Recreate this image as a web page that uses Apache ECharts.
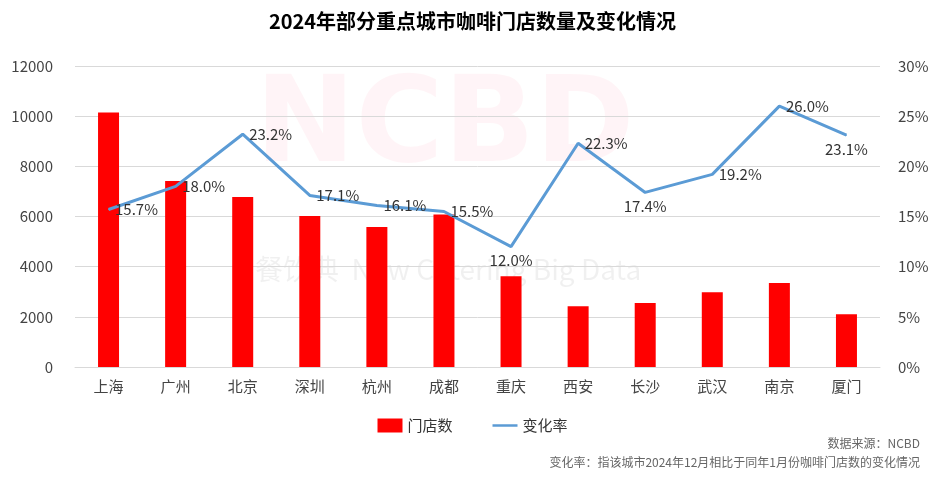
<!DOCTYPE html>
<html><head><meta charset="utf-8">
<script src="https://cdn.jsdelivr.net/npm/echarts@6/dist/echarts.min.js"></script>
<style>html,body{margin:0;padding:0;background:#fff}#c{width:945px;height:480px}</style>
</head><body><div id="c"></div>
<script>
const cities = ['上海','广州','北京','深圳','杭州','成都','重庆','西安','长沙','武汉','南京','厦门'];
const stores = [10150, 7420, 6780, 6020, 5580, 6080, 3620, 2420, 2550, 2980, 3350, 2100];
const rates = [15.7, 18.0, 23.2, 17.1, 16.1, 15.5, 12.0, 22.3, 17.4, 19.2, 26.0, 23.1];
const ratePos = ['right','right','right','right','right','right','bottom','right','bottom','right','right','bottom'];

const chart = echarts.init(document.getElementById('c'));
const font = '"Noto Sans CJK SC", sans-serif';
chart.setOption({
  textStyle: {fontFamily: font},
  title: {text: '2024年部分重点城市咖啡门店数量及变化情况', left: 'center', top: 6,
    textStyle: {fontSize: 20, fontWeight: 'bold', color: '#000', fontFamily: font}},
  graphic: [
    {type: 'text', left: 255, top: 70, z: 0, style: {text: 'NCBD', fontSize: 120, fontWeight: 'bold', fill: 'rgba(255,0,60,0.045)', fontFamily: 'DejaVu Sans'}},
    {type: 'text', left: 255, top: 255, z: 0, style: {text: '餐饮典  New Catering Big Data', fontSize: 28, fill: 'rgba(0,0,0,0.06)', fontFamily: font}},
    {type: 'text', right: 25, top: 437, style: {text: '数据来源：NCBD', fontSize: 12, fill: '#666', fontFamily: font}},
    {type: 'text', right: 25, top: 456, style: {text: '变化率：指该城市2024年12月相比于同年1月份咖啡门店数的变化情况', fontSize: 12, fill: '#666', fontFamily: font}}
  ],
  legend: {bottom: 42, itemGap: 40, textStyle: {fontSize: 15, color: '#333'},
    data: [{name: '门店数', icon: 'rect'}, {name: '变化率', icon: 'path://M0,0L30,0L30,3L0,3Z'}]},
  grid: {left: 75, right: 65, top: 66, bottom: 113},
  xAxis: {type: 'category', data: cities,
    axisLine: {lineStyle: {color: '#d9d9d9'}}, axisTick: {show: false},
    axisLabel: {fontSize: 15, color: '#444', margin: 12}},
  yAxis: [
    {type: 'value', min: 0, max: 12000, interval: 2000,
      axisLabel: {fontSize: 15, color: '#444', margin: 22, formatter: v => String(v)},
      splitLine: {lineStyle: {color: '#d9d9d9'}}},
    {type: 'value', min: 0, max: 30, interval: 5,
      axisLabel: {fontSize: 15, color: '#444', formatter: '{value}%', margin: 18},
      splitLine: {show: false}}
  ],
  series: [
    {name: '门店数', type: 'bar', data: stores, barWidth: 21, itemStyle: {color: '#ff0000'}},
    {name: '变化率', type: 'line', yAxisIndex: 1, symbol: 'circle', symbolSize: 1,
      lineStyle: {width: 3, color: '#5b9bd5'}, itemStyle: {color: '#5b9bd5'},
      data: rates.map((v, i) => ({value: v, label: {position: ratePos[i]}})),
      label: {show: true, formatter: p => p.value.toFixed(1) + '%', fontSize: 15, color: '#333', distance: 6}}
  ]
});
</script></body></html>
